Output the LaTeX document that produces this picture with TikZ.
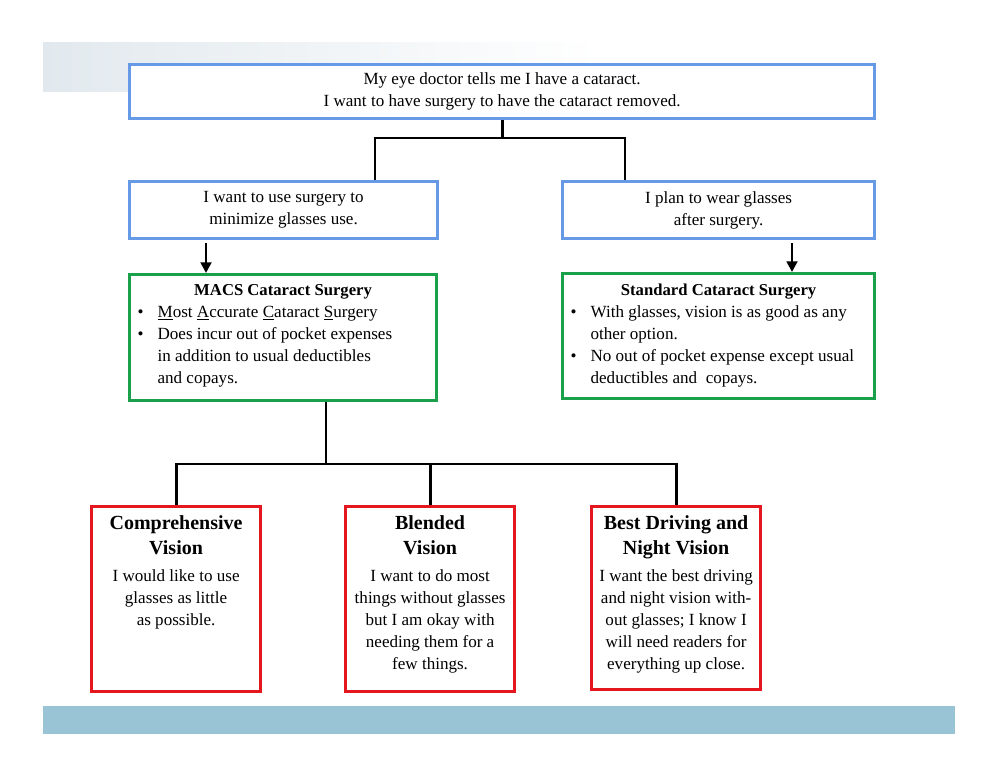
\documentclass[tikz,border=0pt]{standalone}
\usepackage{fontspec}
\setmainfont{Liberation Serif}
\usetikzlibrary{arrows.meta,calc}
\newdimen\px \px=0.75pt
\definecolor{bluebd}{RGB}{102,153,230}
\definecolor{greenbd}{RGB}{26,160,75}
\definecolor{redbd}{RGB}{228,22,30}
\definecolor{bandtop}{RGB}{226,233,238}
\definecolor{bandbot}{RGB}{152,196,214}
\newcommand{\tbox}[3]{\parbox[c][#2\px][t]{#1\px}{#3}}
\newcommand{\bul}[1]{\par\noindent\hangindent=20\px\hangafter=1\makebox[20\px][l]{\textbullet}#1\par}
\newcommand{\ttl}{\fontsize{15}{18.75}\selectfont\bfseries}
\newcommand{\gttl}{\fontsize{12.5}{16.5}\selectfont\bfseries}
\tikzset{
  base/.style={draw, line width=2.4pt, fill=white, anchor=north west,
    font=\fontsize{12.8}{16.5}\selectfont},
  bluebox/.style={base, draw=bluebd, align=center, inner sep=0pt},
  greenbox/.style={base, draw=greenbd, inner sep=0pt},
  redbox/.style={base, draw=redbd, inner sep=0pt},
  conn/.style={line width=2.2pt, black},
  arr/.style={line width=2.2pt, black, -{Triangle[length=8pt,width=8pt]}},
}
\begin{document}
\begin{tikzpicture}[x=0.75pt,y=-0.75pt]
\useasboundingbox (0,0) rectangle (1000,773);
\fill[white] (0,0) rectangle (1000,773);
% bands
\shade[left color=bandtop, right color=white] (43,43) rectangle (600,92);
\fill[bandbot] (43,706) rectangle (955,734);
% top
\node[bluebox, minimum width=745\px, minimum height=54\px] (top) at (128,63)
  {My eye doctor tells me I have a cataract.\\I want to have surgery to have the cataract removed.};
% blue boxes
\node[bluebox, minimum width=308\px, minimum height=57\px] (lb) at (128,180)
  {I want to use surgery to\\minimize glasses use.};
\node[bluebox, minimum width=312\px, minimum height=57\px] (rb) at (561,180)
  {I plan to wear glasses\\after surgery.};
% green boxes
\node[greenbox] (mg) at (128,273) {\tbox{307}{126}{\vspace*{10\px}%
  {\centering\gttl MACS Cataract Surgery\par}%
  \leftskip=8\px
  \bul{\underline{M}ost \underline{A}ccurate \underline{C}ataract \underline{S}urgery}%
  \bul{Does incur out of pocket expenses\\in addition to usual deductibles\\and copays.}}};
\node[greenbox] (sg) at (561,272) {\tbox{312}{125}{\vspace*{10\px}%
  {\centering\gttl Standard Cataract Surgery\par}%
  \leftskip=8\px
  \bul{With glasses, vision is as good as any\\other option.}%
  \bul{No out of pocket expense except usual\\deductibles and\ \ copays.}}};
% red boxes
\node[redbox] (r1) at (90,505) {\tbox{169}{185}{\centering\vspace*{9\px}%
  {\ttl Comprehensive\\Vision\par}\vspace{5\px}%
  I would like to use\\glasses as little\\as possible.\par}};
\node[redbox] (r2) at (344,505) {\tbox{169}{185}{\centering\vspace*{9\px}%
  {\ttl Blended\\Vision\par}\vspace{5\px}%
  I want to do most\\things without glasses\\but I am okay with\\needing them for a\\few things.\par}};
\node[redbox] (r3) at (590,505) {\tbox{169}{183}{\centering\vspace*{9\px}%
  {\ttl Best Driving and\\Night Vision\par}\vspace{5\px}%
  I want the best driving\\and night vision with-\\out glasses; I know I\\will need readers for\\everything up close.\par}};
% connectors top
\coordinate (bus1) at (500,138);
\coordinate (lbt) at ($(lb.north west)+(247,0)$);
\coordinate (rbt) at ($(rb.north west)+(64,0)$);
\draw[conn] (top.south) -- (top.south |- bus1);
\draw[conn] (lbt) -- (lbt |- bus1) -- (rbt |- bus1) -- (rbt);
% arrows
\coordinate (a1) at ($(lb.south west)+(78,3)$);
\coordinate (a2) at ($(rb.south west)+(231,3)$);
\draw[arr] (a1) -- (a1 |- mg.north);
\draw[arr] (a2) -- (a2 |- sg.north);
% bottom bus
\coordinate (mgb) at ($(mg.south west)+(198,0)$);
\coordinate (bus2) at (0,464);
\draw[conn] (mgb) -- (mgb |- bus2);
\draw[conn] (r1.north) -- (r1.north |- bus2) -- (r3.north |- bus2) -- (r3.north);
\draw[conn] (r2.north) -- (r2.north |- bus2);
\end{tikzpicture}
\end{document}
